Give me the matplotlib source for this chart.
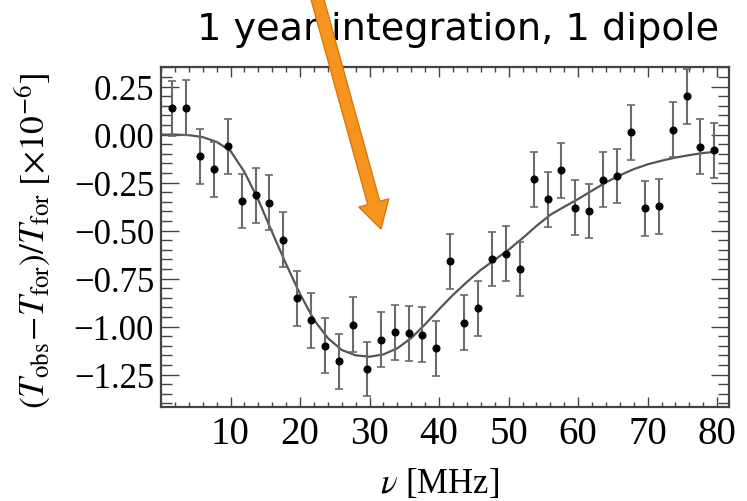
import matplotlib
matplotlib.use("Agg")
import matplotlib.pyplot as plt
from matplotlib.patches import FancyArrow
from matplotlib.transforms import IdentityTransform
from matplotlib.ticker import FixedLocator, FixedFormatter, MultipleLocator

plt.rcParams['mathtext.fontset'] = 'stix'
plt.rcParams['font.family'] = ['Liberation Serif', 'DejaVu Serif']

# ---- data ----
freq_mhz = [1.6, 3.6, 5.6, 7.6, 9.6, 11.6, 13.6, 15.6, 17.6, 19.6,
            21.6, 23.6, 25.6, 27.6, 29.6, 31.6, 33.6, 35.6, 37.6, 39.6,
            41.6, 43.6, 45.6, 47.6, 49.6, 51.6, 53.6, 55.6, 57.6, 59.6,
            61.6, 63.6, 65.6, 67.6, 69.6, 71.6, 73.6, 75.6, 77.6, 79.6]
residual = [0.136, 0.140, -0.112, -0.180, -0.060, -0.346, -0.317, -0.355, -0.548, -0.852,
            -0.968, -1.100, -1.181, -0.990, -1.221, -1.068, -1.029, -1.034, -1.043, -1.112,
            -0.661, -0.980, -0.905, -0.648, -0.621, -0.700, -0.232, -0.338, -0.187, -0.381,
            -0.398, -0.235, -0.216, 0.013, -0.383, -0.374, 0.025, 0.199, -0.063, -0.081]
residual_err = [0.143] * 40

model_freq = [0, 2, 4, 6, 8, 10, 12, 14, 16, 18, 20, 22, 24, 26, 28, 30, 32, 34, 36, 38, 40,
              42, 44, 46, 48, 50, 52, 54, 56, 58, 60, 62, 64, 66, 68, 70, 72, 74, 76, 78, 80]
model_val = [0.0, 0.0, -0.003, -0.013, -0.038, -0.085, -0.195, -0.34, -0.51, -0.675, -0.83,
             -0.965, -1.06, -1.122, -1.15, -1.157, -1.145, -1.113, -1.06, -0.988, -0.91,
             -0.835, -0.768, -0.705, -0.652, -0.600, -0.540, -0.476, -0.418, -0.376, -0.336,
             -0.292, -0.249, -0.212, -0.180, -0.155, -0.136, -0.120, -0.107, -0.096, -0.089]

x_ticks = [10, 20, 30, 40, 50, 60, 70, 80]
x_tick_labels = ["10", "20", "30", "40", "50", "60", "70", "80"]
y_ticks = [0.25, 0.0, -0.25, -0.5, -0.75, -1.0, -1.25]
y_tick_labels = ["0.25", "0.00", "\u22120.25", "\u22120.50", "\u22120.75", "\u22121.00", "\u22121.25"]

title_text = "1 year integration, 1 dipole"

# ---- figure ----
W, H = 747, 502
fig = plt.figure(figsize=(W / 100, H / 100), dpi=100)
ax = fig.add_axes([161 / W, (H - 408) / H, (729 - 161) / W, (408 - 68) / H])

frame_col = '#444444'
ax.plot(model_freq, model_val, color='#555555', lw=1.6, zorder=2)
ax.errorbar(freq_mhz, residual, yerr=residual_err, fmt='o', color='black',
            ms=4.8, ecolor='#6a6a6a', elinewidth=1.5, capsize=3, capthick=1.2, zorder=3)

ax.set_xlim(0, 81.7)
ax.set_ylim(-1.419, 0.352)

ax.xaxis.set_major_locator(FixedLocator(x_ticks))
ax.xaxis.set_major_formatter(FixedFormatter(x_tick_labels))
ax.xaxis.set_minor_locator(MultipleLocator(2))
ax.yaxis.set_major_locator(FixedLocator(y_ticks))
ax.yaxis.set_major_formatter(FixedFormatter(y_tick_labels))
ax.yaxis.set_minor_locator(MultipleLocator(0.05))

for sp in ax.spines.values():
    sp.set_color(frame_col)
    sp.set_linewidth(1.6)

ax.tick_params(axis='both', which='both', direction='in', top=True, right=True,
               color=frame_col, width=1.0)
ax.tick_params(axis='x', which='major', length=7.5, labelsize=28, pad=6)
ax.tick_params(axis='x', which='minor', length=3.5)
ax.tick_params(axis='y', which='major', length=13, labelsize=25, pad=5)
ax.tick_params(axis='y', which='minor', length=8)

ax.set_xlabel(r"$\nu$ [MHz]", fontsize=25)
ax.xaxis.set_label_coords(0.49, -0.175)
ax.set_ylabel(r"$(T_{\rm obs}\!-\!T_{\rm for})/T_{\rm for}\ [\times 10^{-6}]$", fontsize=25.5)
ax.yaxis.set_label_coords(-0.19, 0.49)

fig.text(458 / W, 1 - 40 / H, title_text, family='DejaVu Sans', fontsize=27.5,
         ha='center', va='baseline')

# orange call-out arrow (figure pixel coordinates)
x0, y0 = 316, -5
x1, y1 = 381, 230
arrow = FancyArrow(x0, H - y0, x1 - x0, -(y1 - y0), width=12.5, head_width=31,
                   head_length=27, length_includes_head=True,
                   facecolor='#F7941D', edgecolor='#D9780F', lw=1.0,
                   transform=IdentityTransform(), zorder=10)
fig.add_artist(arrow)

fig.savefig("out.png", dpi=100)
